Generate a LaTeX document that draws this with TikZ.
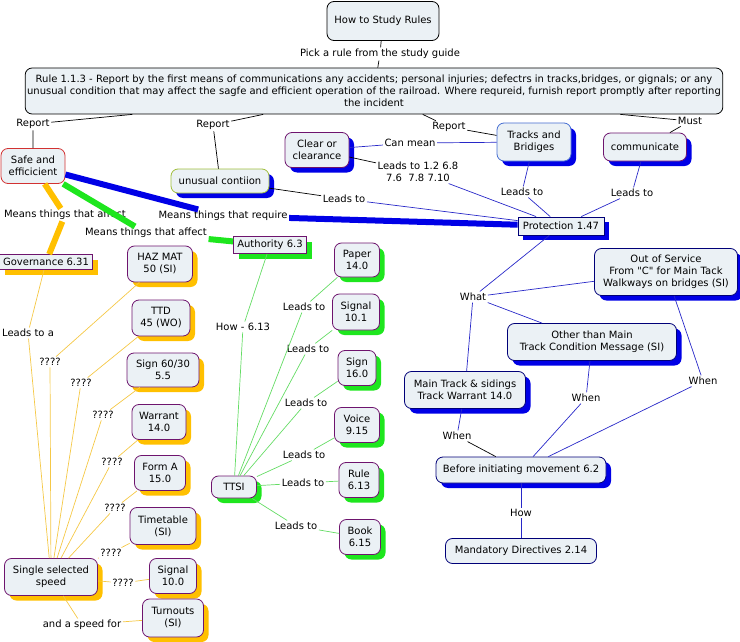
\documentclass[tikz,border=0pt]{standalone}
\usepackage{fontspec}
\setmainfont{DejaVu Sans}[Ligatures=TeXOff]
\usetikzlibrary{shadows}

\definecolor{cfill}{RGB}{235,241,245}
\definecolor{cpurple}{RGB}{110,20,110}
\definecolor{cshblue}{RGB}{0,0,230}
\definecolor{clnblue}{RGB}{40,40,200}
\definecolor{cnavy}{RGB}{0,0,120}
\definecolor{corange}{RGB}{255,192,0}
\definecolor{clnorange}{RGB}{245,200,70}
\definecolor{cgreen}{RGB}{30,230,30}
\definecolor{clngreen}{RGB}{100,220,100}
\definecolor{cred}{RGB}{210,50,50}
\definecolor{cyg}{RGB}{160,190,60}
\definecolor{ctrack}{RGB}{70,110,210}

\tikzset{
  txt/.style={font=\fontsize{10}{12}\selectfont},
  concept/.style={txt, draw=cpurple, fill=cfill, rounded corners=7pt, align=center, inner sep=2pt, line width=0.8pt},
  sqbox/.style={concept, rounded corners=0pt},
  sz/.style 2 args={minimum width=#1pt, minimum height=#2pt},
  bshade/.style={drop shadow={fill=cshblue, opacity=1, shadow xshift=5pt, shadow yshift=-5pt}},
  oshade/.style={drop shadow={fill=corange, opacity=1, shadow xshift=5pt, shadow yshift=-5pt}},
  gshade/.style={drop shadow={fill=cgreen, opacity=1, shadow xshift=5pt, shadow yshift=-5pt}},
  lbl/.style={txt, inner sep=1.5pt, align=center},
  blk/.style={line width=0.7pt, black},
  bln/.style={line width=0.7pt, clnblue},
  grn/.style={line width=0.7pt, clngreen},
  org/.style={line width=0.7pt, clnorange},
  fat/.style={line width=6pt}
}

\begin{document}
\begin{tikzpicture}[x=1pt,y=-1pt]
\useasboundingbox (0,0) rectangle (740,642);

\node[concept, draw=black, sz={112}{39}] (study) at (383,21) {How to Study Rules};
\node[lbl] (pick) at (380,54) {Pick a rule from the study guide};
\node[concept, draw=black, sz={695}{46}] (rule) at (374,91) {Rule 1.1.3 - Report by the first means of communications any accidents; personal injuries; defectrs in tracks,bridges, or gignals; or any\\unusual condition that may affect the sagfe and efficient operation of the railroad. Where requreid, furnish report promptly after reporting\\the incident};

\node[lbl] (rep1) at (33,124) {Report};
\node[lbl] (rep2) at (213,125) {Report};
\node[lbl] (rep3) at (449,127) {Report};
\node[lbl] (must) at (690,121) {Must};

\node[concept, draw=cred, sz={64}{35}] (safe) at (33,166) {Safe and\\efficicient};
\node[concept, draw=cyg, bshade, sz={98}{24}] (unusual) at (220,181) {unusual contiion};
\node[concept, bshade, sz={64}{35}] (clear) at (317,150) {Clear or\\clearance};
\node[concept, draw=ctrack, bshade, sz={74}{38}] (tracks) at (534,142) {Tracks and\\Bridiges};
\node[concept, bshade, sz={83}{28}] (comm) at (645,147) {communicate};

\node[lbl] (canmean) at (410,143) {Can mean};
\node[lbl] (leads12) at (418,172) {Leads to 1.2 6.8\\7.6\ \ 7.8 7.10};
\node[lbl] (leadsUn) at (344,199) {Leads to};
\node[lbl] (leadsTr) at (522,192) {Leads to};
\node[lbl] (leadsCo) at (632,193) {Leads to};

\node[sqbox, draw=cnavy, bshade, sz={86}{18}] (prot) at (561,226) {Protection 1.47};

\node[lbl] (reqlbl) at (223,216) {Means things that require};
\node[lbl] (aff1) at (65,215) {Means things that affect};
\node[lbl] (aff2) at (146,233) {Means things that affect};

\node[sqbox, oshade, sz={93}{15}] (gov) at (46,262) {Governance 6.31};
\node[sqbox, gshade, sz={73}{17}] (auth) at (270,245) {Authority 6.3};

\node[concept, oshade, sz={65}{36}] (hazmat) at (160,264) {HAZ MAT\\50 (SI)};
\node[concept, oshade, sz={58}{36}] (ttd) at (161,318) {TTD\\45 (WO)};
\node[concept, oshade, sz={72}{34}] (sign) at (163,370) {Sign 60/30\\5.5};
\node[concept, oshade, sz={54}{35}] (warrant) at (159,422) {Warrant\\14.0};
\node[concept, oshade, sz={51}{35}] (forma) at (160,473) {Form A\\15.0};
\node[concept, oshade, sz={66}{37}] (timetable) at (163,526) {Timetable\\(SI)};
\node[concept, oshade, sz={47}{35}] (signal) at (173,576) {Signal\\10.0};
\node[concept, oshade, sz={61}{38}] (turnouts) at (173,618) {Turnouts\\(SI)};
\node[concept, oshade, sz={93}{37}] (single) at (51,577) {Single selected\\speed};

\node[lbl] (leadsA) at (28,333) {Leads to a};
\node[lbl] (q1) at (50,362) {????};
\node[lbl] (q2) at (81,383) {????};
\node[lbl] (q3) at (103,415) {????};
\node[lbl] (q4) at (112,462) {????};
\node[lbl] (q5) at (115,508) {????};
\node[lbl] (q6) at (111,553) {????};
\node[lbl] (q7) at (123,583) {????};
\node[lbl] (andspeed) at (82,625) {and a speed for};

\node[lbl] (howlbl) at (243,327) {How - 6.13};
\node[concept, gshade, sz={45}{22}] (ttsi) at (234,487) {TTSI};
\node[concept, gshade, sz={45}{34}] (paper) at (357,260) {Paper\\14.0};
\node[concept, gshade, sz={47}{36}] (signal2) at (356,312) {Signal\\10.1};
\node[concept, gshade, sz={38}{35}] (sign2) at (357,368) {Sign\\16.0};
\node[concept, gshade, sz={45}{35}] (voice) at (357,425) {Voice\\9.15};
\node[concept, gshade, sz={40}{35}] (rule2) at (359,480) {Rule\\6.13};
\node[concept, gshade, sz={41}{35}] (book) at (360,537) {Book\\6.15};
\node[lbl] (lt1) at (304,307) {Leads to};
\node[lbl] (lt2) at (308,349) {Leads to};
\node[lbl] (lt3) at (306,403) {Leads to};
\node[lbl] (lt4) at (304,455) {Leads to};
\node[lbl] (lt5) at (303,483) {Leads to};
\node[lbl] (lt6) at (296,526) {Leads to};

\node[lbl] (what) at (473,297) {What};
\node[concept, draw=cnavy, bshade, sz={143}{47}] (outsvc) at (666,272) {Out of Service\\From "C" for Main Tack\\Walkways on bridges (SI)};
\node[concept, draw=cnavy, bshade, sz={169}{37}] (other) at (592,342) {Other than Main\\Track Condition Message (SI)};
\node[concept, draw=cnavy, bshade, sz={121}{37}] (main) at (465,390) {Main Track \& sidings\\Track Warrant 14.0};
\node[lbl] (when1) at (457,436) {When};
\node[lbl] (when2) at (586,398) {When};
\node[lbl] (when3) at (703,381) {When};
\node[concept, draw=cnavy, bshade, sz={170}{26}] (before) at (521,470) {Before initiating movement 6.2};
\node[lbl] (how) at (521,513) {How};
\node[concept, draw=cnavy, sz={151}{25}] (mand) at (521,551) {Mandatory Directives 2.14};

\draw[blk] (study) -- (pick) -- (rule);
\draw[blk] (rule) -- (rep1) -- (safe);
\draw[blk] (rule) -- (rep2) -- (unusual);
\draw[blk] (rule) -- (rep3) -- (tracks);
\draw[blk] (rule) -- (must) -- (comm);
\draw[blk] (unusual) -- (leadsUn);
\draw[blk] (clear) -- (leads12);
\draw[blk] (when1) -- (before);

\draw[bln] (clear) -- (canmean) -- (tracks);
\draw[bln] (leads12) -- (prot);
\draw[bln] (leadsUn) -- (prot);
\draw[bln] (tracks) -- (leadsTr) -- (prot);
\draw[bln] (comm) -- (leadsCo) -- (prot);
\draw[bln] (prot) -- (what);
\draw[bln] (what) -- (outsvc);
\draw[bln] (what) -- (other);
\draw[bln] (what) -- (main);
\draw[bln] (main) -- (when1);
\draw[bln] (other) -- (when2) -- (before);
\draw[bln] (outsvc) -- (when3) -- (before);
\draw[bln] (before) -- (how) -- (mand);

\draw[fat, cshblue] (safe) -- (reqlbl) -- (prot);
\draw[fat, corange] (safe) -- (aff1) -- (gov);
\draw[fat, cgreen] (safe) -- (aff2) -- (auth);

\draw[grn] (auth) -- (howlbl) -- (ttsi);
\draw[grn] (ttsi) -- (lt1) -- (paper);
\draw[grn] (ttsi) -- (lt2) -- (signal2);
\draw[grn] (ttsi) -- (lt3) -- (sign2);
\draw[grn] (ttsi) -- (lt4) -- (voice);
\draw[grn] (ttsi) -- (lt5) -- (rule2);
\draw[grn] (ttsi) -- (lt6) -- (book);

\draw[org] (gov) -- (leadsA) -- (single);
\draw[org] (hazmat) -- (q1) -- (single);
\draw[org] (ttd) -- (q2) -- (single);
\draw[org] (sign) -- (q3) -- (single);
\draw[org] (warrant) -- (q4) -- (single);
\draw[org] (forma) -- (q5) -- (single);
\draw[org] (timetable) -- (q6) -- (single);
\draw[org] (signal) -- (q7) -- (single);
\draw[org] (single) -- (andspeed) -- (turnouts);

\end{tikzpicture}
\end{document}
